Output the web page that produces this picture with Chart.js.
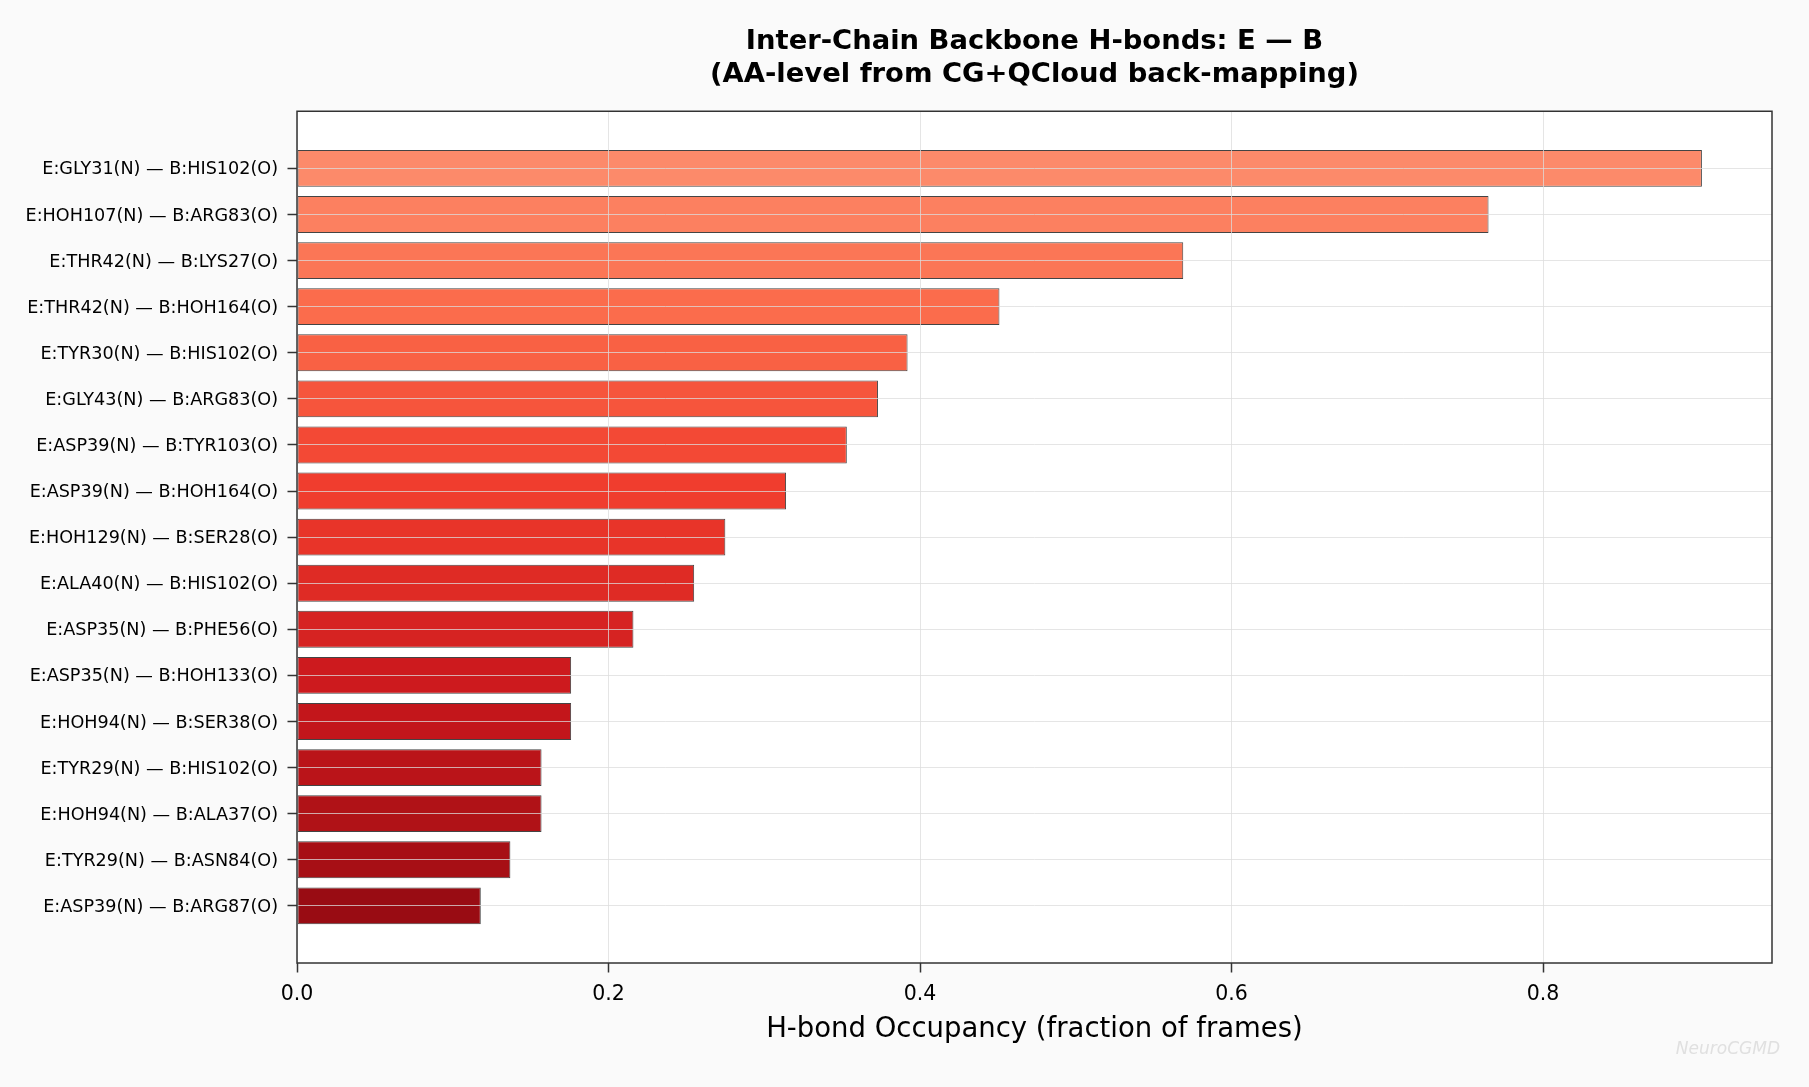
<!DOCTYPE html>
<html>
<head>
<meta charset="utf-8">
<title>Inter-Chain Backbone H-bonds: E — B</title>
<script src="https://cdn.jsdelivr.net/npm/chart.js@4.4.0/dist/chart.umd.min.js"></script>
<style>
  html, body { margin: 0; padding: 0; background: #fafafa; }
  #wrap { width: 1809px; height: 1087px; }
</style>
</head>
<body>
<div id="wrap"><canvas id="chart" width="1809" height="1087"></canvas></div>
<script>
// hydrogen-bond pairs, top to bottom
const pairLabels = [
  "E:GLY31(N) — B:HIS102(O)",
  "E:HOH107(N) — B:ARG83(O)",
  "E:THR42(N) — B:LYS27(O)",
  "E:THR42(N) — B:HOH164(O)",
  "E:TYR30(N) — B:HIS102(O)",
  "E:GLY43(N) — B:ARG83(O)",
  "E:ASP39(N) — B:TYR103(O)",
  "E:ASP39(N) — B:HOH164(O)",
  "E:HOH129(N) — B:SER28(O)",
  "E:ALA40(N) — B:HIS102(O)",
  "E:ASP35(N) — B:PHE56(O)",
  "E:ASP35(N) — B:HOH133(O)",
  "E:HOH94(N) — B:SER38(O)",
  "E:TYR29(N) — B:HIS102(O)",
  "E:HOH94(N) — B:ALA37(O)",
  "E:TYR29(N) — B:ASN84(O)",
  "E:ASP39(N) — B:ARG87(O)"
];

// occupancy (fraction of frames)
const occupancy = [0.902, 0.765, 0.569, 0.451, 0.392, 0.373, 0.353, 0.314, 0.275,
                   0.255, 0.216, 0.176, 0.176, 0.157, 0.157, 0.137, 0.118];

const xTicks = [0, 0.2, 0.4, 0.6, 0.8];

// Reds colormap, light to dark
const barColors = ["#FC8A6A", "#FC8060", "#FB7656", "#FB6C4C", "#F96144", "#F6553C",
                   "#F34935", "#F03D2E", "#E83429", "#DF2B25", "#D62322", "#CD1A1E",
                   "#C3161B", "#BA1419", "#B01217", "#A70F15", "#990C13"];

const FONT = "'DejaVu Sans', sans-serif";
const gridColor = "rgba(220,220,220,0.75)";

const backdrop = {
  id: "backdrop",
  beforeDraw(chart) {
    const { ctx, chartArea: a } = chart;
    ctx.save();
    ctx.fillStyle = "#fafafa";
    ctx.fillRect(0, 0, chart.width, chart.height);
    ctx.fillStyle = "#ffffff";
    ctx.fillRect(a.left, a.top, a.right - a.left, a.bottom - a.top);
    ctx.restore();
  },
  afterDraw(chart) {
    const { ctx, chartArea: a } = chart;
    ctx.save();
    ctx.strokeStyle = "#333333";
    ctx.lineWidth = 1.5;
    ctx.strokeRect(a.left, a.top, a.right - a.left, a.bottom - a.top);
    // watermark
    ctx.font = "italic 17px " + FONT;
    ctx.fillStyle = "#e0e0e0";
    ctx.textAlign = "right";
    ctx.textBaseline = "middle";
    ctx.fillText("NeuroCGMD", 1780, 1050);
    ctx.restore();
  }
};

new Chart(document.getElementById("chart"), {
  type: "bar",
  data: {
    datasets: [{
      data: occupancy.map((v, i) => ({ x: v, y: i })),
      backgroundColor: barColors,
      borderColor: "#444444",
      borderWidth: 1,
      borderSkipped: false,
      categoryPercentage: 1.0,
      barPercentage: 0.8
    }]
  },
  options: {
    indexAxis: "y",
    responsive: false,
    devicePixelRatio: 1,
    animation: false,
    layout: { padding: { left: 0, right: 37, top: 0, bottom: 0 } },
    plugins: {
      legend: { display: false },
      tooltip: { enabled: false },
      title: {
        display: true,
        fullSize: false,
        text: ["Inter-Chain Backbone H-bonds: E — B", "(AA-level from CG+QCloud back-mapping)"],
        color: "#000",
        font: { family: FONT, size: 27.4, weight: "bold", lineHeight: 1.2 },
        padding: { top: 25.5, bottom: 20 }
      }
    },
    scales: {
      x: {
        type: "linear",
        position: "bottom",
        min: 0,
        max: 0.947,
        afterBuildTicks: (scale) => { scale.ticks = xTicks.map(v => ({ value: v })); },
        afterFit: (scale) => { scale.height = 124; },
        ticks: {
          color: "#000",
          font: { family: FONT, size: 20.5 },
          padding: 10,
          maxRotation: 0,
          autoSkip: false,
          callback: (v) => Number(v).toFixed(1)
        },
        grid: {
          z: 1,
          offset: false,
          color: gridColor,
          lineWidth: 1,
          tickColor: "#333",
          tickWidth: 1.5,
          tickLength: 9.5
        },
        border: { display: false },
        title: {
          display: true,
          text: "H-bond Occupancy (fraction of frames)",
          color: "#000",
          font: { family: FONT, size: 27.5 },
          padding: { top: 0, bottom: 40.5 }
        }
      },
      y: {
        type: "linear",
        reverse: true,
        offset: false,
        min: -1.24,
        max: 17.24,
        afterBuildTicks: (scale) => { scale.ticks = pairLabels.map((_, i) => ({ value: i })); },
        afterFit: (scale) => { scale.width = 297; },
        ticks: {
          color: "#000",
          font: { family: FONT, size: 17.6 },
          padding: 9.5,
          labelOffset: 1.5,
          autoSkip: false,
          callback: (v) => pairLabels[v]
        },
        grid: {
          z: 1,
          offset: false,
          color: gridColor,
          lineWidth: 1,
          tickColor: "#333",
          tickWidth: 1.5,
          tickLength: 9.5
        },
        border: { display: false }
      }
    }
  },
  plugins: [backdrop]
});
</script>
</body>
</html>
